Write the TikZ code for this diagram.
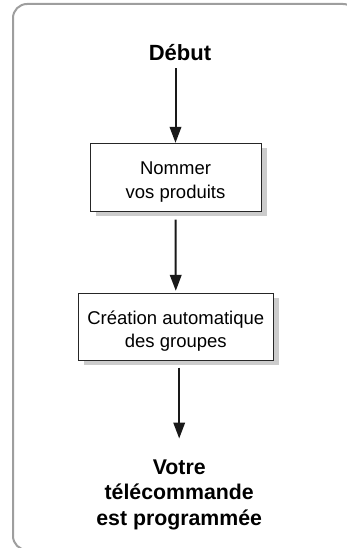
\documentclass[tikz,border=0pt]{standalone}
\usepackage{fontspec}
\setmainfont{Liberation Sans}
\usetikzlibrary{arrows.meta,shadows}

\begin{document}
\begin{tikzpicture}[x=1pt,y=1pt,
	etape/.style={draw=black!85,line width=1pt,fill=white,align=center,inner sep=0pt,
		font=\fontsize{18.5}{23.5}\selectfont,
		drop shadow={shadow xshift=5.5pt,shadow yshift=-5pt,fill=black!20,opacity=1}},
	titre/.style={align=center,inner sep=0pt,font=\bfseries\fontsize{21.3}{25.5}\selectfont},
	fleche/.style={line width=2pt,draw=black!90,-{Triangle[length=16pt,width=11.5pt]}}]
	\useasboundingbox (0,0) rectangle (347,-548);
	\draw[black!38,line width=2pt,rounded corners=14pt] (13,-4) rectangle (357,-550);

	\node[titre,font=\bfseries\fontsize{22}{26}\selectfont,anchor=base] (debut) at (180,-60.7) {Début};
	\node[etape,minimum width=171pt,minimum height=67.7pt] (nommer) at (175.5,-177.2) {\rule{0pt}{22pt}Nommer\\vos produits};
	\node[etape,minimum width=195pt,minimum height=66.7pt] (groupes) at (175.8,-326.7) {\rule{0pt}{22pt}Création automatique\\des groupes};
	\node[titre] (fin) at (179.2,-494.8) {Votre\\télécommande\\est programmée};

	\draw[fleche,shorten <=7pt] (nommer.north |- debut.south) -- (nommer.north);
	\draw[fleche,shorten <=8pt,shorten >=2pt] (nommer.south) -- (groupes.north);
	\draw[fleche,shorten <=7pt,shorten >=21pt] (groupes.south -| fin.north) -- (fin.north);
\end{tikzpicture}
\end{document}
